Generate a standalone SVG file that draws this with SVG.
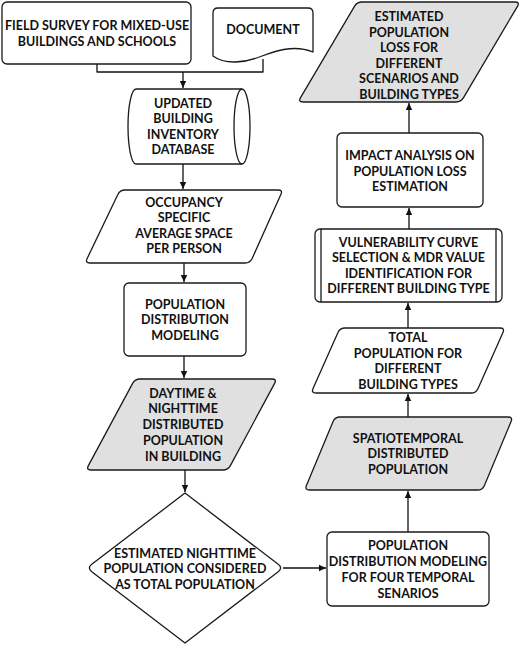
<svg xmlns="http://www.w3.org/2000/svg" width="521" height="645" viewBox="0 0 521 645">
<defs>
<marker id="ah" markerWidth="8" markerHeight="8" refX="7" refY="4" orient="auto" markerUnits="userSpaceOnUse">
<path d="M0,0.8 L7,4 L0,7.2 Z" fill="#111"/>
</marker>
<style>
.s{fill:#fff;stroke:#1a1a1a;stroke-width:1.3;stroke-linejoin:round}
.g{fill:#e0e0e0;stroke:#1a1a1a;stroke-width:1.3;stroke-linejoin:round}
.l{fill:none;stroke:#1a1a1a;stroke-width:1.3}
.c{fill:none;stroke:#111;stroke-width:1.3;stroke-linejoin:round}
text{font-family:Lato,"Open Sans","Liberation Sans",sans-serif;font-weight:700;font-size:12.5px;fill:#111;text-anchor:middle}
</style>
</defs>
<rect width="521" height="645" fill="#fff"/>

<g id="connectors">
<path class="c" d="M97,64 V72 H183"/>
<path class="c" d="M263,59 V72 H183"/>
<path class="c" d="M183,72 V88" marker-end="url(#ah)"/>
<path class="c" d="M183,164 V189" marker-end="url(#ah)"/>
<path class="c" d="M184,263 V282" marker-end="url(#ah)"/>
<path class="c" d="M184,356 V378" marker-end="url(#ah)"/>
<path class="c" d="M185,470 V492" marker-end="url(#ah)"/>
<path class="c" d="M283,568 H326" marker-end="url(#ah)"/>
<path class="c" d="M408,532 V491" marker-end="url(#ah)"/>
<path class="c" d="M408,417 V394" marker-end="url(#ah)"/>
<path class="c" d="M408,328 V303" marker-end="url(#ah)"/>
<path class="c" d="M409,229 V208" marker-end="url(#ah)"/>
<path class="c" d="M409,133 V103" marker-end="url(#ah)"/>
</g>

<g id="field-survey">
<rect class="s" x="2" y="2" width="189" height="62" rx="5"/>
<text x="97" y="29.5">FIELD SURVEY FOR MIXED-USE</text>
<text x="97" y="45.5">BUILDINGS AND SCHOOLS</text>
</g>

<g id="document">
<path class="s" d="M218,8 L308,8 Q313,8 313,13 L313,52 C298,46 283,48 262,56 C245,63 225,65 213,56 L213,13 Q213,8 218,8 Z"/>
<text x="263" y="33.5">DOCUMENT</text>
</g>

<g id="database">
<path class="s" d="M136,89 L242,89 A8,37.5 0 0 1 242,164 L136,164 A8,37.5 0 0 1 136,89 Z"/>
<path class="l" d="M242,89 A8,37.5 0 0 0 242,164"/>
<text x="183" y="107.7">UPDATED</text>
<text x="183" y="123.2">BUILDING</text>
<text x="183" y="138.7">INVENTORY</text>
<text x="183" y="154.2">DATABASE</text>
</g>

<g id="occupancy">
<path class="s" d="M125,190 L278,190 Q283,190 280.84,194.51 L252.16,258.49 Q250,263 245,263 L90,263 Q85,263 87.16,258.49 L117.84,194.51 Q120,190 125,190 Z"/>
<text x="184" y="206.7">OCCUPANCY</text>
<text x="184" y="222.2">SPECIFIC</text>
<text x="184" y="237.7">AVERAGE SPACE</text>
<text x="184" y="253.2">PER PERSON</text>
</g>

<g id="pop-dist-model">
<rect class="s" x="124" y="283" width="122" height="73" rx="5"/>
<text x="185" y="308.7">POPULATION</text>
<text x="185" y="324.2">DISTRIBUTION</text>
<text x="185" y="339.7">MODELING</text>
</g>

<g id="daytime-nighttime">
<path class="g" d="M140,379 L272,379 Q277,379 274.63,383.4 L230.37,465.6 Q228,470 223,470 L91,470 Q86,470 88.37,465.6 L132.63,383.4 Q135,379 140,379 Z"/>
<text x="183" y="397.7">DAYTIME &amp;</text>
<text x="183" y="413.4">NIGHTTIME</text>
<text x="183" y="429.1">DISTRIBUTED</text>
<text x="183" y="444.8">POPULATION</text>
<text x="183" y="460.5">IN BUILDING</text>
</g>

<g id="decision">
<path class="s" d="M185,493 L278.24,564.35 Q283,568 278.24,571.65 L185,643 L91.76,571.65 Q87,568 91.76,564.35 Z"/>
<text x="185" y="557.7">ESTIMATED NIGHTTIME</text>
<text x="185" y="573.2">POPULATION CONSIDERED</text>
<text x="185" y="588.7">AS TOTAL POPULATION</text>
</g>

<g id="temporal-model">
<rect class="s" x="327" y="532" width="162" height="74" rx="5"/>
<text x="408" y="549.7">POPULATION</text>
<text x="408" y="565.7">DISTRIBUTION MODELING</text>
<text x="408" y="581.7">FOR FOUR TEMPORAL</text>
<text x="408" y="597.7">SENARIOS</text>
</g>

<g id="spatiotemporal">
<path class="g" d="M340,417 L508,417 Q513,417 511.07,421.61 L484.43,485.39 Q482.5,490 477.5,490 L309.5,490 Q304.5,490 306.43,485.39 L333.07,421.61 Q335,417 340,417 Z"/>
<text x="408" y="442.7">SPATIOTEMPORAL</text>
<text x="408" y="458.2">DISTRIBUTED</text>
<text x="408" y="473.7">POPULATION</text>
</g>

<g id="total-population">
<path class="s" d="M345,328 L500,328 Q505,328 502.96,332.56 L478.04,388.44 Q476,393 471,393 L316,393 Q311,393 313.04,388.44 L337.96,332.56 Q340,328 345,328 Z"/>
<text x="408" y="342.2">TOTAL</text>
<text x="408" y="357.7">POPULATION FOR</text>
<text x="408" y="373.2">DIFFERENT</text>
<text x="408" y="388.7">BUILDING TYPES</text>
</g>

<g id="vulnerability">
<rect class="s" x="315" y="229" width="187" height="73" rx="5"/>
<path class="l" d="M321,229 V302 M496,229 V302"/>
<text x="408.5" y="246.7">VULNERABILITY CURVE</text>
<text x="408.5" y="262.2">SELECTION &amp; MDR VALUE</text>
<text x="408.5" y="277.7">IDENTIFICATION FOR</text>
<text x="408.5" y="293.2">DIFFERENT BUILDING TYPE</text>
</g>

<g id="impact">
<rect class="s" x="337" y="133" width="146" height="74" rx="5"/>
<text x="410" y="159.7">IMPACT ANALYSIS ON</text>
<text x="410" y="175.7">POPULATION LOSS</text>
<text x="410" y="190.7">ESTIMATION</text>
</g>

<g id="loss-estimate">
<path class="g" d="M362,2 L515,2 Q520,2 517.46,6.31 L463.54,97.69 Q461,102 456,102 L303,102 Q298,102 300.54,97.69 L354.46,6.31 Q357,2 362,2 Z"/>
<text x="409" y="21">ESTIMATED</text>
<text x="409" y="36.6">POPULATION</text>
<text x="409" y="52.2">LOSS FOR</text>
<text x="409" y="67.8">DIFFERENT</text>
<text x="409" y="83.4">SCENARIOS AND</text>
<text x="409" y="99">BUILDING TYPES</text>
</g>
</svg>
